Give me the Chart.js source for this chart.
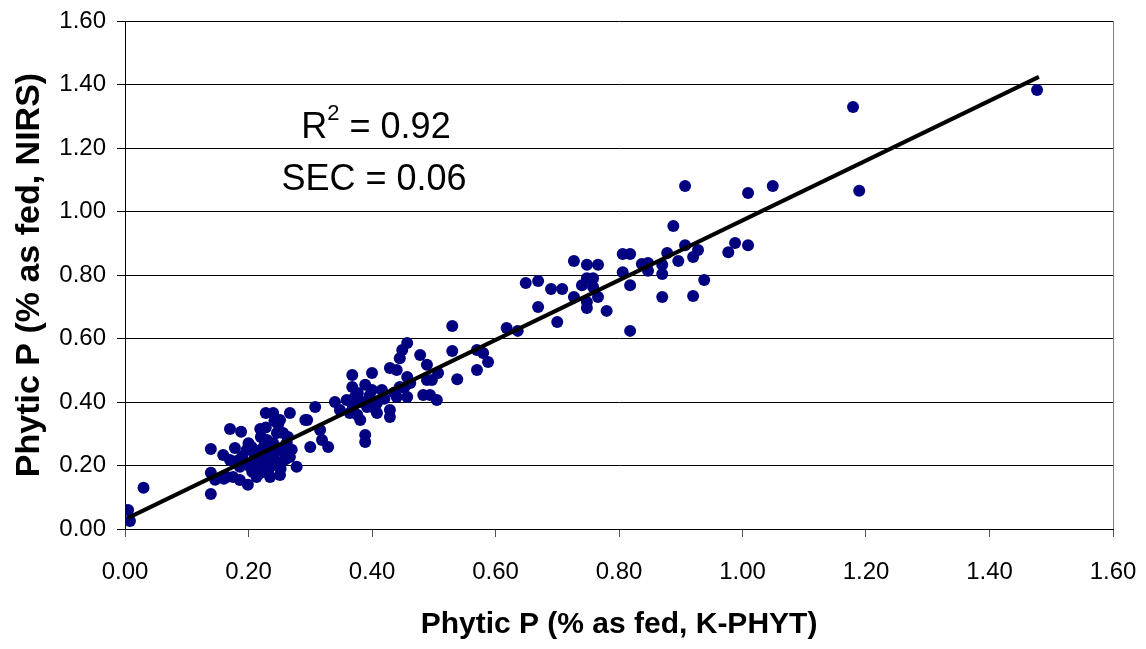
<!DOCTYPE html>
<html>
<head>
<meta charset="utf-8">
<script src="https://cdn.jsdelivr.net/npm/chart.js@4.4.1/dist/chart.umd.min.js"></script>
<style>
  html, body { margin: 0; padding: 0; background: #fff; }
  #wrap { width: 1146px; height: 649px; }
</style>
</head>
<body>
<div id="wrap"><canvas id="chart" width="1146" height="649"></canvas></div>
<script>
// Phytic P, K-PHYT reference method (x) vs NIRS prediction (y)
const kphyt = [
  0.005, 0.008, 0.030,
  0.139, 0.139, 0.139, 0.146, 0.160, 0.170, 0.188,
  0.219, 0.228, 0.240, 0.267, 0.251, 0.295, 0.308, 0.300, 0.278,
  0.159, 0.178, 0.197, 0.205,
  0.165, 0.175, 0.199, 0.186, 0.213, 0.235, 0.251,
  0.230, 0.246, 0.256, 0.262, 0.240, 0.224, 0.267, 0.213, 0.186, 0.170,
  0.200, 0.210, 0.220, 0.230, 0.240, 0.210, 0.190, 0.250, 0.260, 0.270, 0.220, 0.200,
  0.232, 0.238, 0.244, 0.236, 0.228, 0.252, 0.258, 0.218, 0.206, 0.194,
  0.182, 0.248, 0.264, 0.242, 0.226,
  0.457, 0.449, 0.445, 0.478, 0.489, 0.429, 0.440, 0.400, 0.368, 0.368,
  0.389, 0.400, 0.416, 0.377, 0.359, 0.340, 0.348, 0.369, 0.392, 0.408,
  0.429, 0.429, 0.440, 0.457, 0.457, 0.462, 0.445, 0.483, 0.494, 0.497,
  0.505, 0.292, 0.316, 0.319, 0.329, 0.389, 0.389, 0.364, 0.381, 0.408,
  0.372, 0.384, 0.396, 0.420, 0.436, 0.452, 0.376, 0.404,
  0.530, 0.618, 0.636, 0.700, 0.530, 0.570, 0.580, 0.588, 0.570, 0.538,
  0.507, 0.489,
  0.727, 0.748, 0.766, 0.806, 0.818, 0.837, 0.847, 0.847, 0.870, 0.870,
  0.878, 0.896, 0.806, 0.818, 0.870, 0.818, 0.649, 0.669, 0.690, 0.708,
  0.669, 0.727, 0.740, 0.748, 0.758, 0.758, 0.748, 0.748, 0.766, 0.780,
  0.907, 1.009, 1.049, 1.189, 0.888, 0.907, 0.920, 0.928, 0.977, 0.988,
  1.009, 0.920, 0.938,
  1.179, 1.477
];
const nirs = [
  0.060, 0.025, 0.130,
  0.252, 0.177, 0.110, 0.155, 0.158, 0.315, 0.306,
  0.315, 0.365, 0.365, 0.365, 0.343, 0.343, 0.384, 0.258, 0.196,
  0.233, 0.255, 0.249, 0.258,
  0.164, 0.164, 0.139, 0.154, 0.164, 0.164, 0.170,
  0.280, 0.302, 0.302, 0.271, 0.227, 0.208, 0.227, 0.217, 0.196, 0.217,
  0.200, 0.190, 0.250, 0.230, 0.270, 0.225, 0.230, 0.250, 0.220, 0.250, 0.290, 0.270,
  0.185, 0.200, 0.215, 0.255, 0.320, 0.190, 0.240, 0.175, 0.180, 0.205,
  0.215, 0.330, 0.290, 0.340, 0.265,
  0.586, 0.564, 0.538, 0.548, 0.517, 0.507, 0.501, 0.491, 0.485, 0.447,
  0.454, 0.438, 0.438, 0.428, 0.406, 0.400, 0.375, 0.384, 0.384, 0.397,
  0.375, 0.353, 0.416, 0.416, 0.479, 0.460, 0.447, 0.422, 0.422, 0.469,
  0.406, 0.343, 0.312, 0.280, 0.258, 0.296, 0.274, 0.365, 0.343, 0.365,
  0.415, 0.400, 0.420, 0.410, 0.430, 0.445, 0.360, 0.380,
  0.639, 0.633, 0.624, 0.652, 0.561, 0.564, 0.554, 0.526, 0.501, 0.472,
  0.491, 0.469,
  0.844, 0.832, 0.832, 0.866, 0.866, 0.835, 0.838, 0.813, 0.832, 0.803,
  0.869, 0.844, 0.809, 0.768, 0.731, 0.624, 0.775, 0.781, 0.756, 0.756,
  0.699, 0.731, 0.768, 0.790, 0.790, 0.762, 0.715, 0.696, 0.731, 0.687,
  1.080, 1.058, 1.080, 1.065, 0.954, 0.894, 0.857, 0.879, 0.872, 0.901,
  0.894, 0.734, 0.784,
  1.329, 1.383
];

// linear trendline end points
const trendX = [0.005, 1.48];
const trendY = [0.035, 1.424];

const axisTicks = [0, 0.2, 0.4, 0.6, 0.8, 1.0, 1.2, 1.4, 1.6];

const statLines = ['R', '2', ' = 0.92', 'SEC = 0.06'];

const FONT = "'Liberation Sans', Arial, sans-serif";

const points = kphyt.map((x, i) => ({ x: x, y: nirs[i] }));
const trend = trendX.map((x, i) => ({ x: x, y: trendY[i] }));

// axis titles, annotation text and the right edge of the plot frame
const extras = {
  id: 'extras',
  afterDraw(chart) {
    const { ctx, chartArea: a } = chart;
    ctx.save();
    ctx.strokeStyle = '#808080';
    ctx.lineWidth = 1;
    ctx.beginPath();
    ctx.moveTo(a.right + 0.5, a.top);
    ctx.lineTo(a.right + 0.5, a.bottom);
    ctx.stroke();

    ctx.fillStyle = '#000';
    ctx.textAlign = 'center';
    ctx.textBaseline = 'middle';
    ctx.font = 'bold 30px ' + FONT;
    ctx.fillText('Phytic P (% as fed, K-PHYT)', (a.left + a.right) / 2, 625);
    ctx.font = 'bold 34px ' + FONT;
    ctx.translate(30, (a.top + a.bottom) / 2);
    ctx.rotate(-Math.PI / 2);
    ctx.fillText('Phytic P (% as fed, NIRS)', 0, 0);
    ctx.restore();

    // R² line, with a raised 2
    ctx.save();
    ctx.fillStyle = '#000';
    ctx.textBaseline = 'alphabetic';
    ctx.textAlign = 'left';
    const big = '36px ' + FONT, small = '22px ' + FONT;
    ctx.font = big;
    const wR = ctx.measureText(statLines[0]).width;
    const wRest = ctx.measureText(statLines[2]).width;
    ctx.font = small;
    const w2 = ctx.measureText(statLines[1]).width;
    let x0 = 376 - (wR + w2 + wRest) / 2;
    ctx.font = big;
    ctx.fillText(statLines[0], x0, 138);
    ctx.font = small;
    ctx.fillText(statLines[1], x0 + wR, 120);
    ctx.font = big;
    ctx.fillText(statLines[2], x0 + wR + w2, 138);
    ctx.textAlign = 'center';
    ctx.fillText(statLines[3], 374, 190);
    ctx.restore();
  }
};

const tickFont = { family: FONT, size: 24 };

function noPad(s) {
  s.paddingLeft = 0;
  s.paddingRight = 0;
  s.paddingTop = 0;
  s.paddingBottom = 0;
}

new Chart(document.getElementById('chart'), {
  type: 'scatter',
  data: {
    datasets: [
      {
        type: 'line',
        label: 'Trend',
        data: trend,
        borderColor: '#000',
        borderWidth: 4,
        pointRadius: 0,
        fill: false,
        order: 0
      },
      {
        label: 'Samples',
        data: points,
        backgroundColor: '#000080',
        borderColor: '#000080',
        borderWidth: 0,
        pointRadius: 6,
        order: 1
      }
    ]
  },
  options: {
    responsive: false,
    animation: false,
    layout: { padding: { top: 21, right: 33, bottom: 0, left: 0 } },
    plugins: {
      legend: { display: false },
      tooltip: { enabled: false }
    },
    scales: {
      x: {
        type: 'linear',
        min: 0,
        max: 1.6,
        afterBuildTicks: s => { s.ticks = axisTicks.map(v => ({ value: v })); },
        afterFit: s => { s.height = 120; noPad(s); },
        ticks: {
          font: tickFont,
          color: '#000',
          padding: 21,
          maxRotation: 0,
          autoSkip: false,
          callback: v => v.toFixed(2)
        },
        grid: { drawOnChartArea: false, drawTicks: true, tickLength: 8, color: '#555' },
        border: { color: '#000', width: 1 }
      },
      y: {
        type: 'linear',
        min: 0,
        max: 1.6,
        afterBuildTicks: s => { s.ticks = axisTicks.map(v => ({ value: v })); },
        afterFit: s => { s.width = 125; noPad(s); },
        ticks: {
          font: tickFont,
          color: '#000',
          padding: 11,
          autoSkip: false,
          callback: v => v.toFixed(2)
        },
        grid: { drawOnChartArea: true, drawTicks: true, tickLength: 8, color: '#000' },
        border: { color: '#000', width: 1 }
      }
    }
  },
  plugins: [extras]
});
</script>
</body>
</html>
